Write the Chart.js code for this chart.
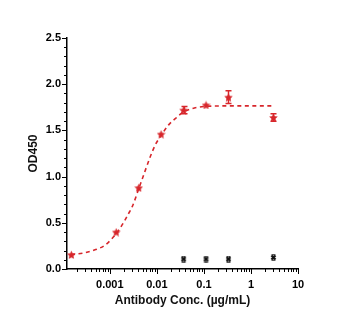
<!DOCTYPE html>
<html><head><meta charset="utf-8">
<script src="https://cdn.jsdelivr.net/npm/chart.js@4"></script>
<style>html,body{margin:0;padding:0;background:#fff}</style>
</head><body>
<canvas id="c" width="350" height="335"></canvas>
<script>
// Data
const concs = [0.000152, 0.00137, 0.00412, 0.0123, 0.037, 0.111, 0.333, 3];
const od = [0.155, 0.40, 0.88, 1.46, 1.72, 1.775, 1.86, 1.64];
const odErr = [0, 0, 0, 0, 0.04, 0, 0.07, 0.04];
const ctrlConcs = [0.037, 0.111, 0.333, 3];
const ctrlOd = [0.108, 0.108, 0.108, 0.125];
const fitX = [0.00015, 0.0003, 0.0005, 0.0008, 0.0014, 0.002, 0.0025, 0.003, 0.0042, 0.0057, 0.0073, 0.0093, 0.0125, 0.0178, 0.025, 0.037, 0.066, 0.111, 0.33, 1, 3];
const fitY = [0.155, 0.177, 0.21, 0.26, 0.39, 0.51, 0.60, 0.675, 0.88, 1.07, 1.22, 1.345, 1.45, 1.56, 1.63, 1.70, 1.745, 1.76, 1.765, 1.765, 1.765];
const xTickLabels = [0.001, 0.01, 0.1, 1, 10];
const yTickLabels = [0, 0.5, 1.0, 1.5, 2.0, 2.5];

const RED = '#d7262b';

function makeStar(size, color) {
  const c = document.createElement('canvas');
  c.width = size; c.height = size;
  const g = c.getContext('2d');
  const cx = size / 2, cy = size / 2 + 0.5, R = size / 2, r = R * 0.48;
  g.beginPath();
  for (let i = 0; i < 10; i++) {
    const a = -Math.PI / 2 + i * Math.PI / 5;
    const rr = i % 2 === 0 ? R : r;
    g.lineTo(cx + rr * Math.cos(a), cy + rr * Math.sin(a));
  }
  g.closePath();
  g.fillStyle = color; g.fill();
  return c;
}
function makeX(size, color) {
  const c = document.createElement('canvas');
  c.width = size; c.height = size;
  const g = c.getContext('2d');
  g.strokeStyle = color; g.lineWidth = 2.2;
  g.beginPath();
  g.moveTo(1.5, 1.5); g.lineTo(size - 1.5, size - 1.5);
  g.moveTo(size - 1.5, 1.5); g.lineTo(1.5, size - 1.5);
  g.stroke();
  g.lineWidth = 1;
  g.beginPath();
  g.moveTo(1.5, 0.8); g.lineTo(size - 1.5, 0.8);
  g.moveTo(1.5, size - 0.8); g.lineTo(size - 1.5, size - 0.8);
  g.stroke();
  return c;
}
const starImg = makeStar(9, RED);
const xImg = makeX(7, '#111');

const near = (a, b) => Math.abs(Math.log10(a) - Math.log10(b)) < 1e-6;
const isDecade = v => xTickLabels.some(l => near(v, l));
const isIntSig = v => { const s = v / Math.pow(10, Math.floor(Math.log10(v) + 1e-9)); return Math.abs(s - Math.round(s)) < 1e-6; };

const tickPlugin = {
  id: 'tickMarks',
  afterDraw(chart) {
    const ctx = chart.ctx, xs = chart.scales.x, ys = chart.scales.y;
    ctx.save();
    ctx.strokeStyle = '#000'; ctx.lineWidth = 1;
    xs.ticks.forEach(t => {
      const v = t.value;
      if (v < xs.min || v > xs.max * 1.0001 || !isIntSig(v)) return;
      const px = Math.round(xs.getPixelForValue(v)) + 0.5;
      const len = isDecade(v) ? 5 : 3;
      ctx.beginPath(); ctx.moveTo(px, xs.top); ctx.lineTo(px, xs.top + len); ctx.stroke();
    });
    ys.ticks.forEach(t => {
      const v = t.value;
      const py = Math.round(ys.getPixelForValue(v)) + 0.5;
      const major = yTickLabels.some(l => Math.abs(l - v) < 1e-6);
      const len = major ? 5 : 3;
      ctx.beginPath(); ctx.moveTo(ys.right, py); ctx.lineTo(ys.right - len, py); ctx.stroke();
    });
    ctx.restore();
  }
};
const errPlugin = {
  id: 'errBars',
  afterDatasetsDraw(chart) {
    const ctx = chart.ctx, xs = chart.scales.x, ys = chart.scales.y;
    ctx.save();
    ctx.strokeStyle = RED; ctx.lineWidth = 1.5;
    concs.forEach((c, i) => {
      if (!odErr[i]) return;
      const px = Math.round(xs.getPixelForValue(c)) + 0.5;
      const t = ys.getPixelForValue(od[i] + odErr[i]);
      const b = ys.getPixelForValue(od[i] - odErr[i]);
      ctx.beginPath();
      ctx.moveTo(px, t); ctx.lineTo(px, b);
      ctx.moveTo(px - 3, t); ctx.lineTo(px + 3, t);
      ctx.moveTo(px - 3, b); ctx.lineTo(px + 3, b);
      ctx.stroke();
    });
    ctx.restore();
  }
};

const font = { family: '"Liberation Sans", Arial, sans-serif', weight: 'bold' };

new Chart(document.getElementById('c'), {
  type: 'scatter',
  data: {
    datasets: [
      {
        type: 'line',
        data: fitX.map((x, i) => ({ x, y: fitY[i] })),
        borderColor: RED, borderWidth: 1.6, borderDash: [4, 3.5],
        pointRadius: 0, cubicInterpolationMode: 'monotone', fill: false
      },
      {
        data: concs.map((x, i) => ({ x, y: od[i] })),
        pointStyle: starImg, pointRadius: 4, backgroundColor: RED, borderColor: RED
      },
      {
        data: ctrlConcs.map((x, i) => ({ x, y: ctrlOd[i] })),
        pointStyle: xImg, pointRadius: 4, backgroundColor: '#111', borderColor: '#111'
      }
    ]
  },
  options: {
    responsive: false,
    animation: false,
    devicePixelRatio: 1,
    layout: { padding: { left: 0, right: 52, top: 38, bottom: 0 } },
    plugins: { legend: { display: false }, tooltip: { enabled: false } },
    scales: {
      x: {
        type: 'logarithmic', min: 0.000123, max: 10,
        afterFit: s => { s.height = 66; },
        grid: { display: false, drawTicks: false },
        border: { display: true, color: '#000', width: 1.5 },
        ticks: {
          autoSkip: false, maxRotation: 0, padding: 9, color: '#000',
          font: { ...font, size: 11 },
          callback: v => { const l = xTickLabels.find(l => near(v, l)); return l !== undefined ? String(l) : ''; }
        },
        title: { display: true, text: 'Antibody Conc. (µg/mL)', color: '#111', font: { ...font, size: 12 }, padding: { top: 0, bottom: 27 } }
      },
      y: {
        type: 'linear', min: 0, max: 2.5,
        afterFit: s => { s.width = 67; },
        grid: { display: false, drawTicks: false },
        border: { display: true, color: '#000', width: 1.5 },
        ticks: {
          stepSize: 0.1, autoSkip: false, padding: 6, color: '#000',
          font: { ...font, size: 11 },
          callback: v => { const l = yTickLabels.find(l => Math.abs(l - v) < 1e-6); return l !== undefined ? l.toFixed(1) : ''; }
        },
        title: { display: true, text: 'OD450', color: '#111', font: { ...font, size: 12 }, padding: { top: 26, bottom: 0 } }
      }
    }
  },
  plugins: [tickPlugin, errPlugin]
});
</script>
</body></html>
